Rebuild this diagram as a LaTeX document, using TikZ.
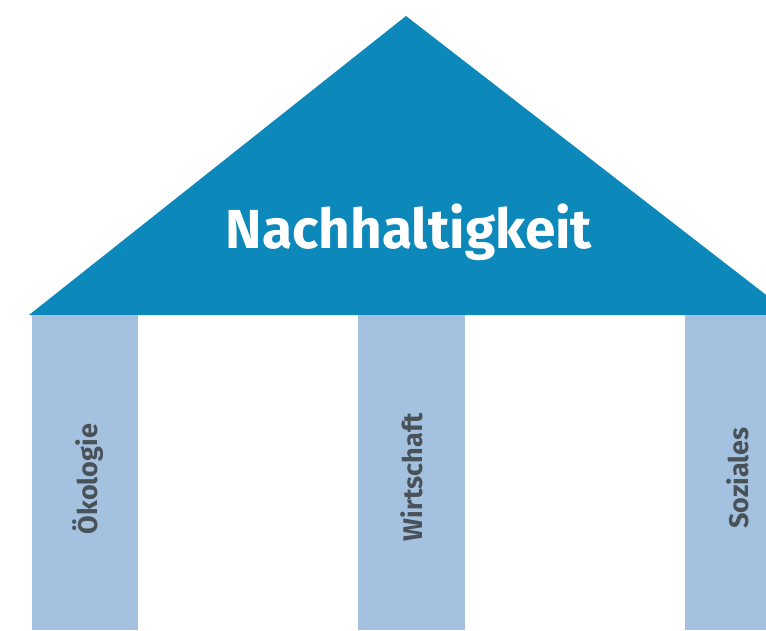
\documentclass[tikz,border=0pt]{standalone}
\usepackage{fontspec}
\setmainfont{Fira Sans}
\definecolor{roof}{HTML}{0C88BA}
\definecolor{pillar}{HTML}{A4C2DF}
\definecolor{labeltext}{HTML}{4A5259}
\begin{document}
\begin{tikzpicture}[x=1pt,y=-1pt,
  pillarbox/.style={fill=pillar,draw=none},
  pillarlabel/.style={text=labeltext,font=\fontsize{27}{27}\selectfont\bfseries,rotate=90,inner sep=0pt},
  rooftext/.style={text=white,font=\fontsize{55}{55}\selectfont\bfseries,inner sep=0pt}]
\useasboundingbox (0,0) rectangle (766,630);
\clip (0,0) rectangle (766,630);
\fill[roof] (29,315) -- (406,16) -- (792,315) -- cycle;
\node[rooftext] (title) at (409,232) {Nachhaltigkeit};
\fill[pillarbox] (32,315) rectangle (138,630);
\fill[pillarbox] (358,315) rectangle (465,630);
\fill[pillarbox] (685,315) rectangle (800,630);
\node[pillarlabel] (oeko) at (88,479) {Ökologie};
\node[pillarlabel] (wirt) at (412,477) {Wirtschaft};
\node[pillarlabel] (soz) at (738,478) {Soziales};
\end{tikzpicture}
\end{document}
